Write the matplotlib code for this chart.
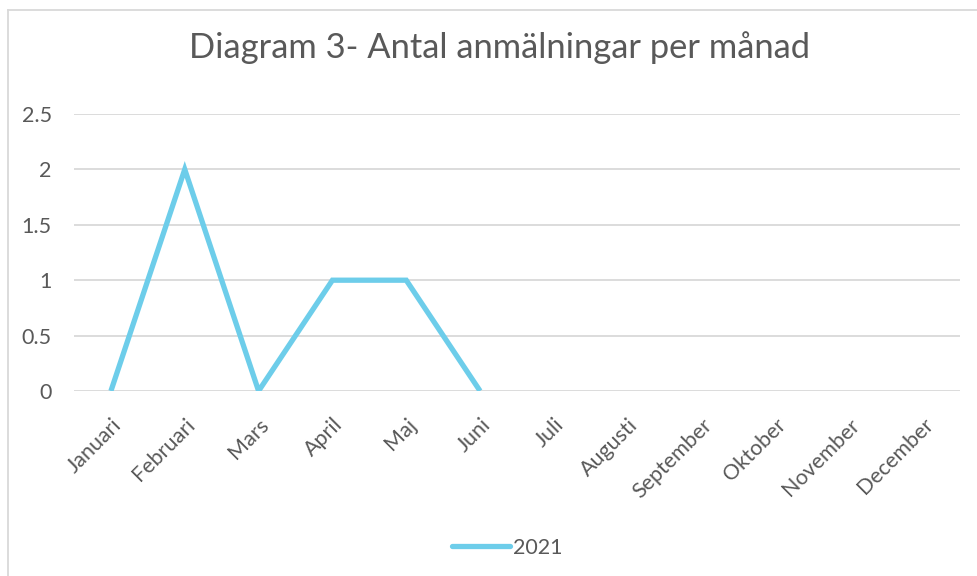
import matplotlib
matplotlib.use("Agg")
import matplotlib.pyplot as plt
from matplotlib.lines import Line2D
import numpy as np

months = ["Januari", "Februari", "Mars", "April", "Maj", "Juni", "Juli",
          "Augusti", "September", "Oktober", "November", "December"]
values_2021 = [0, 2, 0, 1, 1, 0]
series_name = "2021"
yticks = [0, 0.5, 1, 1.5, 2, 2.5]
title = "Diagram 3- Antal anmälningar per månad"

plt.rcParams['font.family'] = ['Lato', 'DejaVu Sans']
W, H = 978, 576
fig = plt.figure(figsize=(W/100, H/100), dpi=100)
ax = fig.add_axes([74/W, 1-391/H, (960-74)/W, (391-114)/H])

x = np.arange(len(months))
ax.plot(x[:len(values_2021)], values_2021, color='#6DCDEA', lw=3.8,
        solid_joinstyle='miter', solid_capstyle='butt', label=series_name)

ax.set_xlim(-0.5, len(months)-0.5)
ax.set_ylim(0, 2.5)
ax.set_yticks(yticks)
ax.set_yticklabels([f"{v:g}" for v in yticks])
ax.set_xticks(x)
ax.set_xticklabels(months, rotation=45, ha='right', rotation_mode='anchor')
ax.tick_params(axis='both', length=0, colors='#595959', labelsize=15.5)
ax.tick_params(axis='y', pad=16)
ax.tick_params(axis='x', pad=17)
for s in ax.spines.values():
    s.set_visible(False)
ax.grid(axis='y', color='#D9D9D9', lw=1.3)
ax.set_axisbelow(True)

fig.text(500/W, 1-48/H, title, ha='center', va='center', fontsize=24.8, color='#595959')

handle = Line2D([], [], color='#6DCDEA', lw=3.8, solid_capstyle='round')
fig.legend([handle], [series_name], loc='center', bbox_to_anchor=(507/W, 1-548/H),
           frameon=False, fontsize=15.5, labelcolor='#595959', handlelength=2.7,
           handletextpad=0.15)

# chart border
fig.add_artist(Line2D([8/W, 8/W], [0, 1-10/H], transform=fig.transFigure, color='#D9D9D9', lw=1.3))
fig.add_artist(Line2D([8/W, 1], [1-10/H, 1-10/H], transform=fig.transFigure, color='#D9D9D9', lw=1.3))

fig.savefig("out.png", dpi=100)
